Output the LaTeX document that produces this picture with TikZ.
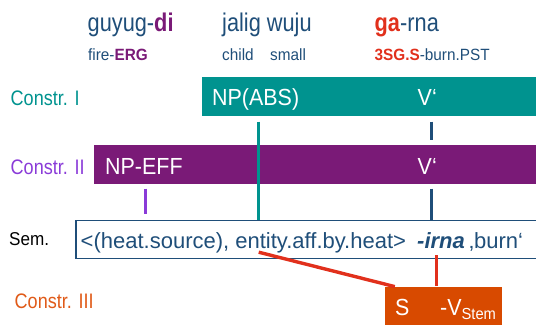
\documentclass[tikz,border=0pt]{standalone}
\usepackage{fontspec}
\setmainfont{Liberation Sans}
\newfontfamily\wordfam[FakeStretch=0.85]{Liberation Sans}
\newfontfamily\glossfam[FakeStretch=0.94]{Liberation Sans}
\newfontfamily\lblfam[FakeStretch=0.86]{Liberation Sans}
\newfontfamily\boxfam[FakeStretch=0.92]{Liberation Sans}
\definecolor{tealc}{HTML}{00938F}
\definecolor{plumc}{HTML}{7A1A77}
\definecolor{violc}{HTML}{8A3BD8}
\definecolor{navyc}{HTML}{1F4E79}
\definecolor{redc}{HTML}{E1301C}
\definecolor{orangebox}{HTML}{D84A00}
\definecolor{orangetxt}{HTML}{E05A18}
\tikzset{
  txt/.style={inner sep=0pt, anchor=base west},
  word/.style={txt, text=navyc, font=\wordfam\fontsize{25.6}{30}\selectfont},
  gloss/.style={txt, text=navyc, font=\glossfam\fontsize{16.3}{19}\selectfont},
  lbl/.style={txt, font=\lblfam\fontsize{21}{25}\selectfont},
  boxtxt/.style={txt, text=white, font=\boxfam\fontsize{23.3}{27}\selectfont},
  semfont/.style={txt, text=navyc, font=\fontsize{22}{26}\selectfont},
  bar/.style={inner sep=0pt, anchor=north west, draw=none},
  link/.style={line width=3pt},
}
\begin{document}
\begin{tikzpicture}[x=1pt,y=-1pt]
\clip (0,0) rectangle (536,332);
% words and glosses
\node[word] (w1) at (87.5,31.5) {guyug-\textcolor{plumc}{\textbf{di}}};
\node[word] (w2) at (222,31.5) {jalig wuju};
\node[word] (w3) at (374.5,31.5) {\textcolor{redc}{\textbf{ga}}-rna};
\node[gloss] (g1) at (88,60) {fire-\textcolor{plumc}{\textbf{ERG}}};
\node[gloss] (g2) at (222,60) {child};
\node[gloss] (g3) at (270,60) {small};
\node[gloss] (g4) at (374.5,60) {\textcolor{redc}{\textbf{3SG.S}}-burn.PST};
% construction rows
\node[bar, fill=tealc, minimum width=345pt, minimum height=38.5pt] (boxI) at (202,77) {};
\node[bar, fill=plumc, minimum width=450pt, minimum height=39pt] (boxII) at (94,144.5) {};
\node[bar, draw=navyc, line width=1.7pt, minimum width=480pt, minimum height=38pt] (sem) at (75,219.5) {};
\node[bar, fill=orangebox, minimum width=117pt, minimum height=38pt] (boxIII) at (385,286.4) {};
% row labels
\node[lbl, text=tealc] (lI) at (10.5,105) {Constr. I};
\node[lbl, text=violc] (lII) at (10.5,174) {Constr. II};
\node[txt, text=black, font=\boxfam\fontsize{18.6}{22}\selectfont] (lS) at (9,245) {Sem.};
\node[lbl, text=orangetxt] (lIII) at (14.5,308.5) {Constr. III};
% box contents
\node[boxtxt] (npabs) at (212,105) {NP(ABS)};
\node[boxtxt] (vI) at (417.5,105) {V‘};
\node[boxtxt] (npeff) at (105,174) {NP-EFF};
\node[boxtxt] (vII) at (417.5,174) {V‘};
\node[semfont] (semtxt) at (80.5,248) {<(heat.source), entity.aff.by.heat>};
\node[semfont] (irna) at (417,248) {\textbf{\textit{-irna}}};
\node[semfont] (burn) at (469,248) {‚burn‘};
\node[boxtxt] (s) at (395,315.5) {S};
\node[boxtxt] (vstem) at (440,315.5) {-V\textsubscript{\boxfam\fontsize{16}{19}\selectfont Stem}};
% links between the rows
\coordinate (tA) at (258.5,121.5);
\coordinate (nA) at (431.7,121.5);
\coordinate (nB) at (431.7,140);
\coordinate (nC) at (431.7,188.6);
\coordinate (pA) at (145.3,188.6);
\coordinate (pB) at (145.3,214);
\coordinate (rA) at (258.7,252.2);
\coordinate (rB) at (394.8,286.6);
\coordinate (rC) at (436,255);
\draw[link, draw=tealc] (tA) -- (tA |- sem.north);
\draw[link, draw=navyc] (nA) -- (nB);
\draw[link, draw=navyc] (nC) -- (nC |- sem.north);
\draw[link, draw=violc] (pA) -- (pB);
\draw[link, draw=redc, line width=3.4pt] (rA) -- (rB);
\draw[link, draw=redc] (rC) -- (rC |- boxIII.north);
\end{tikzpicture}
\end{document}
